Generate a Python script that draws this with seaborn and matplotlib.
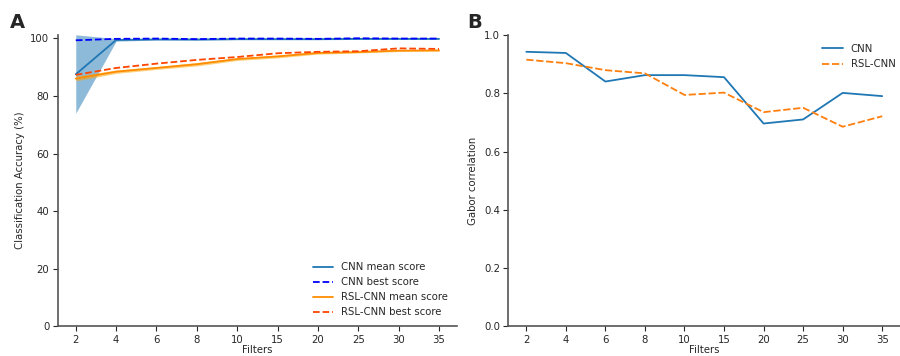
import numpy as np
import pandas as pd
import seaborn as sns
import matplotlib.pyplot as plt

# data
filters = ['2', '4', '6', '8', '10', '15', '20', '25', '30', '35']

cnn_mean = [87.5, 99.4, 99.6, 99.6, 99.7, 99.7, 99.7, 99.8, 99.8, 99.8]
cnn_low = [74.0, 99.0, 99.4, 99.3, 99.5, 99.5, 99.5, 99.6, 99.6, 99.6]
cnn_high = [101.2, 99.9, 99.9, 99.9, 99.9, 99.9, 99.9, 99.9, 99.9, 99.9]
cnn_best = [99.3, 99.8, 99.9, 99.7, 99.9, 99.9, 99.8, 100.0, 99.9, 99.9]

rsl_mean = [86.0, 88.4, 89.7, 91.0, 92.8, 93.7, 94.9, 95.2, 95.7, 95.8]
rsl_low = [85.2, 87.8, 89.2, 90.4, 92.3, 93.2, 94.5, 94.9, 95.4, 95.5]
rsl_high = [86.9, 89.0, 90.2, 91.6, 93.2, 94.2, 95.3, 95.5, 96.0, 96.1]
rsl_best = [87.3, 89.7, 91.2, 92.5, 93.5, 94.8, 95.3, 95.5, 96.5, 96.3]

gabor_cnn = [0.942, 0.938, 0.840, 0.862, 0.862, 0.855, 0.696, 0.710, 0.801, 0.790]
gabor_rsl = [0.915, 0.903, 0.879, 0.868, 0.794, 0.802, 0.735, 0.750, 0.685, 0.721]

sns.set_style("ticks")
plt.rcParams['font.family'] = ['DejaVu Sans']
fs = 7.3

fig = plt.figure(figsize=(9, 3.56), dpi=100)
ax1 = fig.add_axes([0.064, 0.083, 0.444, 0.820])
ax2 = fig.add_axes([0.565, 0.083, 0.435, 0.819])

pos = np.arange(len(filters))

# panel A
ax1.fill_between(pos, cnn_low, cnn_high, color='#1f77b4', alpha=0.5, linewidth=0)
ax1.fill_between(pos, rsl_low, rsl_high, color='orange', alpha=0.5, linewidth=0)
sns.lineplot(x=pos, y=cnn_mean, ax=ax1, color='#1f77b4', linewidth=1.3, label='CNN mean score')
sns.lineplot(x=pos, y=cnn_best, ax=ax1, color='blue', linewidth=1.3, linestyle='--', label='CNN best score')
sns.lineplot(x=pos, y=rsl_mean, ax=ax1, color='darkorange', linewidth=1.3, label='RSL-CNN mean score')
sns.lineplot(x=pos, y=rsl_best, ax=ax1, color='orangered', linewidth=1.3, linestyle='--', label='RSL-CNN best score')
ax1.set_ylim(0, 101.3)
ax1.set_xticks(pos, filters)
ax1.set_ylabel('Classification Accuracy (%)', fontsize=fs)
ax1.legend(loc='lower right', frameon=False, fontsize=fs, handlelength=2.0,
           bbox_to_anchor=(1.0, 0.0))

# panel B
df_b = pd.DataFrame({
    'Filters': list(pos) * 2,
    'corr': gabor_cnn + gabor_rsl,
    'model': ['CNN'] * len(filters) + ['RSL-CNN'] * len(filters),
})
sns.lineplot(data=df_b, x='Filters', y='corr', hue='model', style='model',
             palette=['#1f77b4', '#ff7f0e'], ax=ax2, linewidth=1.3)
ax2.set_ylim(0, 1.0)
ax2.set_xticks(pos, filters)
ax2.set_ylabel('Gabor correlation', fontsize=fs)
ax2.legend(title=None, loc='upper right', frameon=False, fontsize=fs,
           handlelength=2.0, bbox_to_anchor=(1.012, 1.0))

for ax in (ax1, ax2):
    sns.despine(ax=ax)
    ax.set_xlabel('Filters', fontsize=fs, labelpad=0.5)
    ax.tick_params(labelsize=fs, length=3.5, pad=2.5)
    for s in ('left', 'bottom'):
        ax.spines[s].set_color('#555555')
        ax.spines[s].set_linewidth(1.2)

fig.text(0.011, 0.92, 'A', fontsize=14, fontweight='bold')
fig.text(0.519, 0.92, 'B', fontsize=14, fontweight='bold')

plt.savefig('out.png', dpi=100)
